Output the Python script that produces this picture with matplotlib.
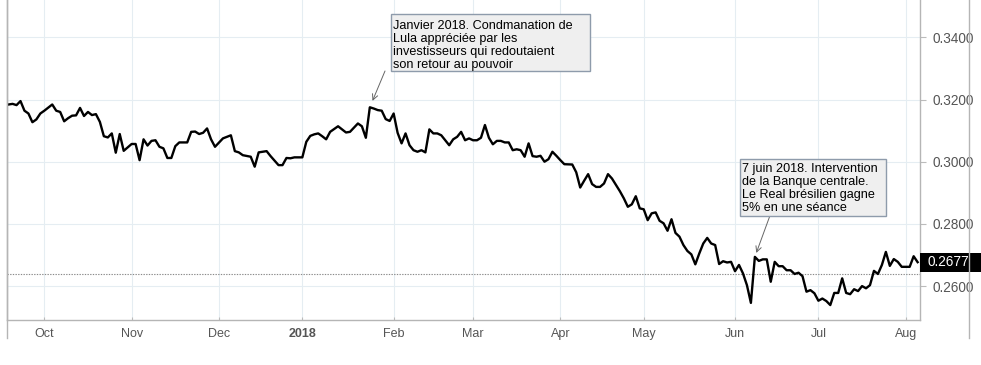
import numpy as np
import matplotlib
matplotlib.use('Agg')
import matplotlib.pyplot as plt
from matplotlib.lines import Line2D
from matplotlib.patches import Rectangle
from matplotlib.transforms import blended_transform_factory

# BRL / USD, daily closes (vertices)
dates = [
    '2017-09-19', '2017-09-20', '2017-09-21', '2017-09-22', '2017-09-25', '2017-09-26',
    '2017-09-27', '2017-09-28', '2017-09-29', '2017-10-02', '2017-10-04', '2017-10-05',
    '2017-10-06', '2017-10-09', '2017-10-10', '2017-10-11', '2017-10-12', '2017-10-13',
    '2017-10-16', '2017-10-17', '2017-10-18', '2017-10-19', '2017-10-20', '2017-10-23',
    '2017-10-24', '2017-10-25', '2017-10-26', '2017-10-27', '2017-10-30', '2017-10-31',
    '2017-11-01', '2017-11-02', '2017-11-03', '2017-11-06', '2017-11-07', '2017-11-08',
    '2017-11-09', '2017-11-10', '2017-11-13', '2017-11-14', '2017-11-15', '2017-11-16',
    '2017-11-17', '2017-11-21', '2017-11-22', '2017-11-23', '2017-11-24', '2017-11-27',
    '2017-11-28', '2017-11-29', '2017-11-30', '2017-12-04', '2017-12-05', '2017-12-06',
    '2017-12-07', '2017-12-08', '2017-12-11', '2017-12-13', '2017-12-14', '2017-12-15',
    '2017-12-19', '2017-12-20', '2017-12-22', '2017-12-25', '2017-12-26', '2017-12-27',
    '2017-12-28', '2018-01-01', '2018-01-02', '2018-01-03', '2018-01-04', '2018-01-05',
    '2018-01-08', '2018-01-09', '2018-01-10', '2018-01-12', '2018-01-15', '2018-01-16',
    '2018-01-17', '2018-01-19', '2018-01-22', '2018-01-23', '2018-01-24', '2018-01-25',
    '2018-01-26', '2018-01-29', '2018-01-30', '2018-01-31', '2018-02-01', '2018-02-02',
    '2018-02-05', '2018-02-06', '2018-02-07', '2018-02-08', '2018-02-09', '2018-02-12',
    '2018-02-13', '2018-02-14', '2018-02-15', '2018-02-16', '2018-02-19', '2018-02-21',
    '2018-02-22', '2018-02-23', '2018-02-26', '2018-02-27', '2018-02-28', '2018-03-01',
    '2018-03-02', '2018-03-05', '2018-03-06', '2018-03-07', '2018-03-08', '2018-03-09',
    '2018-03-12', '2018-03-13', '2018-03-14', '2018-03-15', '2018-03-16', '2018-03-19',
    '2018-03-20', '2018-03-21', '2018-03-22', '2018-03-23', '2018-03-26', '2018-03-27',
    '2018-03-28', '2018-03-29', '2018-03-30', '2018-04-02', '2018-04-03', '2018-04-05',
    '2018-04-06', '2018-04-09', '2018-04-10', '2018-04-11', '2018-04-12', '2018-04-13',
    '2018-04-16', '2018-04-17', '2018-04-18', '2018-04-19', '2018-04-23', '2018-04-24',
    '2018-04-25', '2018-04-26', '2018-04-27', '2018-04-30', '2018-05-01', '2018-05-02',
    '2018-05-03', '2018-05-04', '2018-05-07', '2018-05-08', '2018-05-09', '2018-05-10',
    '2018-05-11', '2018-05-14', '2018-05-15', '2018-05-16', '2018-05-17', '2018-05-18',
    '2018-05-21', '2018-05-22', '2018-05-23', '2018-05-24', '2018-05-25', '2018-05-28',
    '2018-05-29', '2018-05-30', '2018-05-31', '2018-06-01', '2018-06-04', '2018-06-05',
    '2018-06-06', '2018-06-07', '2018-06-08', '2018-06-11', '2018-06-12', '2018-06-13',
    '2018-06-14', '2018-06-15', '2018-06-18', '2018-06-19', '2018-06-20', '2018-06-21',
    '2018-06-22', '2018-06-25', '2018-06-26', '2018-06-27', '2018-06-28', '2018-06-29',
    '2018-07-02', '2018-07-03', '2018-07-04', '2018-07-05', '2018-07-06', '2018-07-09',
    '2018-07-10', '2018-07-11', '2018-07-12', '2018-07-13', '2018-07-16', '2018-07-17',
    '2018-07-18', '2018-07-19', '2018-07-20', '2018-07-23', '2018-07-24', '2018-07-25',
    '2018-07-26', '2018-07-27', '2018-07-30', '2018-07-31', '2018-08-02', '2018-08-03',
    '2018-08-06',
]
rate = [
    0.3184, 0.3186, 0.3182, 0.3195, 0.3164, 0.3155,
    0.3127, 0.3136, 0.3155, 0.3164, 0.3184, 0.3164,
    0.3160, 0.3130, 0.3140, 0.3148, 0.3149, 0.3173,
    0.3147, 0.3160, 0.3150, 0.3153, 0.3128, 0.3082,
    0.3078, 0.3091, 0.3029, 0.3089, 0.3035, 0.3046,
    0.3057, 0.3057, 0.3005, 0.3072, 0.3052, 0.3067,
    0.3069, 0.3048, 0.3043, 0.3012, 0.3012, 0.3050,
    0.3062, 0.3062, 0.3096, 0.3097, 0.3089, 0.3093,
    0.3107, 0.3072, 0.3048, 0.3075, 0.3080, 0.3085,
    0.3034, 0.3030, 0.3021, 0.3016, 0.2984, 0.3030,
    0.3034, 0.3018, 0.2989, 0.2989, 0.3012, 0.3011,
    0.3014, 0.3014, 0.3064, 0.3083, 0.3088, 0.3091,
    0.3082, 0.3072, 0.3096, 0.3114, 0.3104, 0.3094,
    0.3096, 0.3123, 0.3114, 0.3077, 0.3175, 0.3171,
    0.3166, 0.3164, 0.3137, 0.3131, 0.3155, 0.3093,
    0.3059, 0.3091, 0.3053, 0.3037, 0.3032, 0.3037,
    0.3030, 0.3104, 0.3091, 0.3091, 0.3085, 0.3053,
    0.3072, 0.3080, 0.3096, 0.3069, 0.3075, 0.3069,
    0.3069, 0.3077, 0.3118, 0.3077, 0.3056, 0.3067,
    0.3067, 0.3062, 0.3062, 0.3037, 0.3040, 0.3037,
    0.3016, 0.3059, 0.3018, 0.3016, 0.3019, 0.3000,
    0.3008, 0.3032, 0.3019, 0.3005, 0.2992, 0.2991,
    0.2966, 0.2917, 0.2939, 0.2960, 0.2928, 0.2919,
    0.2919, 0.2930, 0.2960, 0.2946, 0.2905, 0.2882,
    0.2855, 0.2863, 0.2889, 0.2850, 0.2847, 0.2812,
    0.2834, 0.2837, 0.2810, 0.2802, 0.2778, 0.2815,
    0.2771, 0.2759, 0.2732, 0.2713, 0.2702, 0.2670,
    0.2705, 0.2737, 0.2755, 0.2737, 0.2732, 0.2671,
    0.2680, 0.2676, 0.2678, 0.2648, 0.2668, 0.2641,
    0.2603, 0.2546, 0.2694, 0.2681, 0.2686, 0.2686,
    0.2614, 0.2678, 0.2664, 0.2664, 0.2651, 0.2651,
    0.2639, 0.2643, 0.2632, 0.2582, 0.2587, 0.2577,
    0.2553, 0.2560, 0.2552, 0.2539, 0.2578, 0.2578,
    0.2625, 0.2578, 0.2574, 0.2590, 0.2584, 0.2600,
    0.2593, 0.2603, 0.2649, 0.2639, 0.2668, 0.2710,
    0.2665, 0.2687, 0.2678, 0.2662, 0.2662, 0.2696,
    0.2677,
]
ref_level = 0.2639

month_firsts = ['2017-10-01', '2017-11-01', '2017-12-01', '2018-01-01', '2018-02-01',
                '2018-03-01', '2018-04-01', '2018-05-01', '2018-06-01', '2018-07-01',
                '2018-08-01']
month_labels = ['Oct', 'Nov', 'Dec', '2018', 'Feb', 'Mar', 'Apr', 'May', 'Jun', 'Jul', 'Aug']
y_ticks = [0.26, 0.28, 0.30, 0.32, 0.34]

note_lula = ("Janvier 2018. Condmanation de\nLula appréciée par les\n"
             "investisseurs qui redoutaient\nson retour au pouvoir")
note_bc = ("7 juin 2018. Intervention\nde la Banque centrale.\n"
           "Le Real brésilien gagne\n5% en une séance")

plt.rcParams['font.family'] = ['Liberation Sans', 'DejaVu Sans']

origin = '2017-10-02'
x = np.busday_count(origin, dates)
tick_x = np.busday_count(origin, np.busday_offset(month_firsts, 0, roll='forward'))

W, H = 981, 365
fig = plt.figure(figsize=(W / 100, H / 100), dpi=100)
ax = fig.add_axes([7 / W, 45 / H, 913 / W, 320 / H])

ax.plot(x, rate, color='black', lw=1.7, zorder=3)
ax.axhline(ref_level, color='#8a8a8a', lw=0.8, ls=(0, (1.2, 1.2)), zorder=2)

ax.set_xlim(-9.4, 220.6)
ax.set_ylim(0.2491, 0.3520)

ax.set_xticks(tick_x)
ax.set_xticklabels(month_labels)
for lab in ax.get_xticklabels():
    if lab.get_text() == '2018':
        lab.set_fontweight('bold')
        lab.set_color('#333333')
ax.tick_params(axis='x', direction='in', length=2, pad=6, colors='#bbbbbb',
               labelcolor='#555555', labelsize=9)

ax.yaxis.tick_right()
ax.set_yticks(y_ticks)
ax.set_yticklabels(['%.4f' % v for v in y_ticks])
ax.tick_params(axis='y', length=4, pad=5, colors='#bbbbbb', labelcolor='#555555',
               labelsize=9.8)

ax.grid(True, color='#e5edf2', lw=0.8, zorder=0)
ax.set_axisbelow(True)
ax.spines['top'].set_visible(False)
for s in ['left', 'right', 'bottom']:
    ax.spines[s].set_color('#b5b5b5')
    ax.spines[s].set_linewidth(1.0)

# frame lines of the chart widget
for fx in [7 / W, 969 / W]:
    fig.add_artist(Line2D([fx, fx], [27 / H, 1], transform=fig.transFigure,
                          color='#b5b5b5', lw=1.0))

# last price tag
last = rate[-1]
trans = blended_transform_factory(ax.transAxes, ax.transData)
box_h = 19 / 3110
ax.add_patch(Rectangle((1.0, last - box_h / 2), 61 / 913, box_h, transform=trans,
                       facecolor='black', edgecolor='none', clip_on=False, zorder=5))
ax.text(1.0 + 8 / 913, last, '%.4f' % last, transform=trans, color='white',
        fontsize=9.8, va='center', ha='left', zorder=6, clip_on=False)


def note(text, box, arrow_from, date, shrink, top_gap):
    # box = (left, top, right, bottom) in image pixels
    x0, y0, x1, y1 = box
    fig.add_artist(Rectangle((x0 / W, 1 - y1 / H), (x1 - x0) / W, (y1 - y0) / H,
                             transform=fig.transFigure, facecolor='#efefef',
                             edgecolor='#8e9bab', lw=1.0, zorder=4))
    fig.text((x0 + 2.5) / W, 1 - (y0 + top_gap) / H, text, ha='left', va='top',
             fontsize=9.1, linespacing=1.12, color='black', zorder=5)
    i = dates.index(date)
    ax.annotate('', xy=(x[i], rate[i]), xycoords='data',
                xytext=(arrow_from[0], H - arrow_from[1]), textcoords='figure pixels',
                arrowprops=dict(arrowstyle='->', color='#666666', lw=0.7,
                                shrinkA=0, shrinkB=shrink), zorder=4)


note(note_lula, (390.5, 14, 590, 71), (385, 71), '2018-01-24', 5, 6)
note(note_bc, (739.5, 158.5, 886, 215.5), (770, 215.5), '2018-06-08', 3, 4.5)

fig.savefig('out.png', dpi=100)
